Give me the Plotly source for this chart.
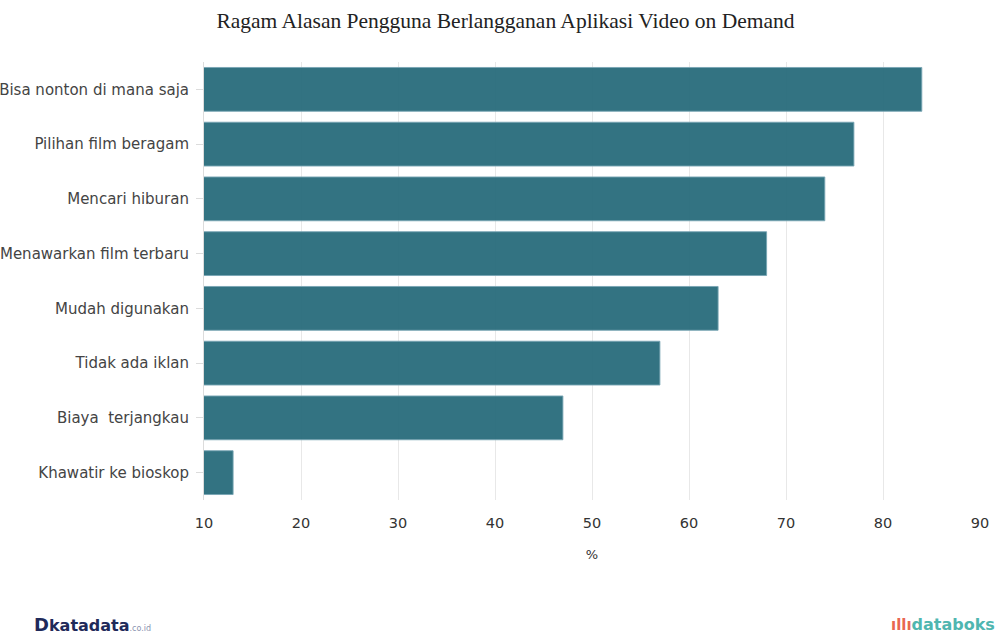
import plotly.graph_objects as go

categories = [
    "Bisa nonton di mana saja",
    "Pilihan film beragam",
    "Mencari hiburan",
    "Menawarkan film terbaru",
    "Mudah digunakan",
    "Tidak ada iklan",
    "Biaya  terjangkau",
    "Khawatir ke bioskop",
]
values = [84, 77, 74, 68, 63, 57, 47, 13]
x_ticks = [10, 20, 30, 40, 50, 60, 70, 80, 90]

fig = go.Figure(go.Bar(
    y=categories,
    x=values,
    orientation="h",
    marker=dict(color="rgba(36,104,120,0.93)", line=dict(color="rgba(120,165,180,0.9)", width=1)),
    hoverinfo="x+y",
))

fig.update_layout(
    width=1001, height=634,
    margin=dict(l=204, r=21, t=62, b=134),
    paper_bgcolor="white", plot_bgcolor="white",
    bargap=0.2,
    showlegend=False,
    title=dict(text="Ragam Alasan Pengguna Berlangganan Aplikasi Video on Demand",
               x=0.505, xanchor="center", y=1 - 20 / 634, yanchor="middle",
               font=dict(family="Liberation Serif", size=21.5, color="#222")),
    xaxis=dict(range=[10, 90], tickvals=x_ticks, showgrid=True, gridcolor="#e8e8e8",
               zeroline=False, showline=False, ticks="", automargin=False,
               ticklabelstandoff=12,
               tickfont=dict(family="DejaVu Sans", size=14.5, color="#333"),
               title=dict(text="%", font=dict(family="DejaVu Sans", size=13, color="#333"), standoff=20)),
    yaxis=dict(categoryorder="array", categoryarray=categories[::-1], autorange=True,
               showline=True, linecolor="#dcdcdc", linewidth=1, automargin=False,
               ticks="outside", ticklen=7, tickcolor="#dcdcdc", ticklabelstandoff=4,
               tickfont=dict(family="DejaVu Sans", size=15, color="#444"),
               showgrid=False),
    font=dict(family="DejaVu Sans"),
)

fig.add_annotation(
    xref="paper", yref="paper", x=-0.222, y=-0.285, xanchor="left", yanchor="middle",
    showarrow=False,
    text="<b><span style='color:#1f2a5a;font-size:18px'>D</span><span style='color:#1f2a5a;font-size:16px'>katadata</span></b><span style='color:#8a93b0;font-size:8px'>.co.id</span>",
)
fig.add_annotation(
    xref="paper", yref="paper", x=1.022, y=-0.285, xanchor="right", yanchor="middle",
    showarrow=False,
    text="<b><span style='color:#e8674f;font-size:15px'>ıllı</span></b><b><span style='color:#4fb6b0;font-size:16px'>databoks</span></b>",
)

fig.write_html("out.html", config={"displayModeBar": False},
               post_script="document.body.style.margin='0';document.body.style.overflow='hidden';")
